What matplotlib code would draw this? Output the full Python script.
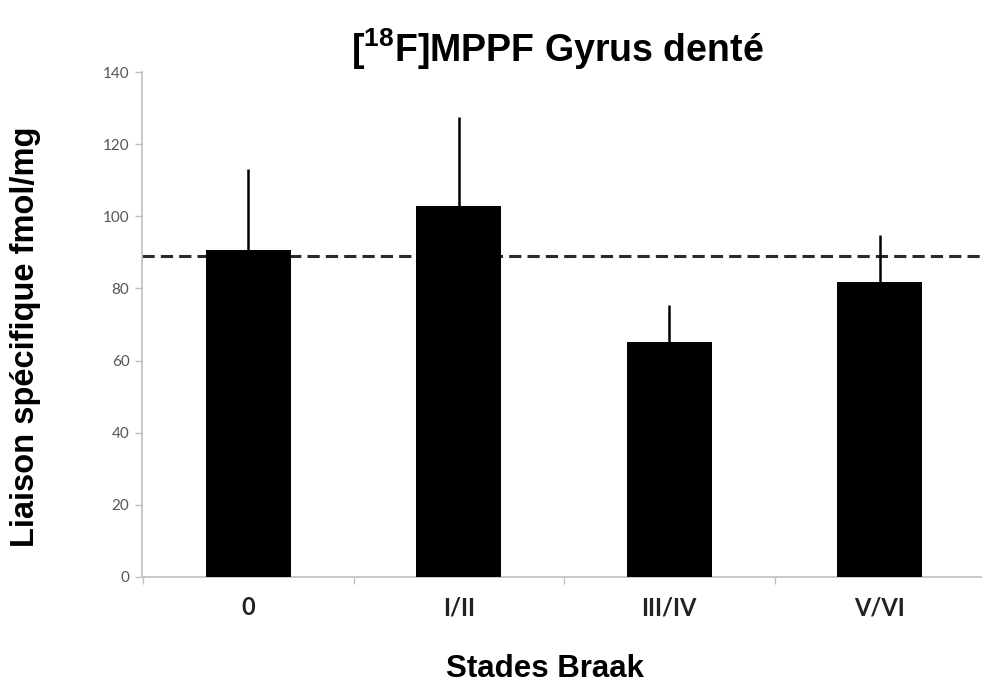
import matplotlib
matplotlib.use("Agg")
import matplotlib.pyplot as plt
from matplotlib import font_manager as fm

categories = ["0", "I/II", "III/IV", "V/VI"]
values = [90.7, 102.9, 65.2, 81.9]
errors_up = [22.4, 24.7, 10.2, 12.9]
reference_level = 89.0
yticks = [0, 20, 40, 60, 80, 100, 120, 140]

names = {f.name for f in fm.fontManager.ttflist}
narrow = "Liberation Sans Narrow" if "Liberation Sans Narrow" in names else "Liberation Sans"
tickfont = "Lato" if "Lato" in names else "DejaVu Sans"

plt.rcParams["mathtext.fontset"] = "custom"
plt.rcParams["mathtext.rm"] = narrow
plt.rcParams["mathtext.bf"] = narrow + ":bold"

fig = plt.figure(figsize=(9.82, 6.84), dpi=100)
ax = fig.add_axes([142 / 982, 107 / 684, 843 / 982, 505 / 684])

x = list(range(len(categories)))
ax.axhline(reference_level, color="#2b2b2b", lw=2.2, ls=(0, (4, 2)), zorder=1)
ax.bar(x, values, width=0.405, color="black", zorder=3)
ax.errorbar(x, values, yerr=[[0] * len(values), errors_up], fmt="none",
            ecolor="black", elinewidth=1.8, capsize=0, zorder=2)

ax.set_xlim(-0.505, 3.5)
ax.set_ylim(0, 140)
ax.set_yticks(yticks)
ax.set_yticklabels([str(t) for t in yticks], fontfamily=tickfont, fontsize=11, color="#555555")
ax.tick_params(axis="y", direction="out", length=5, width=1, color="#bfbfbf", pad=4)

ax.set_xticks(x)
ax.set_xticklabels(categories, fontfamily=tickfont, fontweight="bold", fontsize=17, color="#222222")
ax.tick_params(axis="x", which="major", length=0, pad=14)
ax.set_xticks([-0.5, 0.5, 1.5, 2.5, 3.5], minor=True)
ax.tick_params(axis="x", which="minor", direction="out", length=5, width=1, color="#bfbfbf")

for s in ["top", "right"]:
    ax.spines[s].set_visible(False)
for s in ["left", "bottom"]:
    ax.spines[s].set_color("#bfbfbf")
    ax.spines[s].set_linewidth(1.2)

fig.text(557 / 982, 1 - 62 / 684, r"[$^{\mathbf{18}}$F]MPPF Gyrus denté",
         ha="center", va="baseline", fontfamily=narrow, fontweight="bold", fontsize=27)
fig.text(26 / 982, 1 - 337 / 684, "Liaison spécifique fmol/mg", rotation=90,
         ha="center", va="center", fontfamily="Liberation Sans", fontweight="bold", fontsize=23.5)
fig.text(545 / 982, 1 - 677 / 684, "Stades Braak", ha="center", va="baseline",
         fontfamily="Liberation Sans", fontweight="bold", fontsize=22.5)

fig.savefig("out.png", dpi=100)
